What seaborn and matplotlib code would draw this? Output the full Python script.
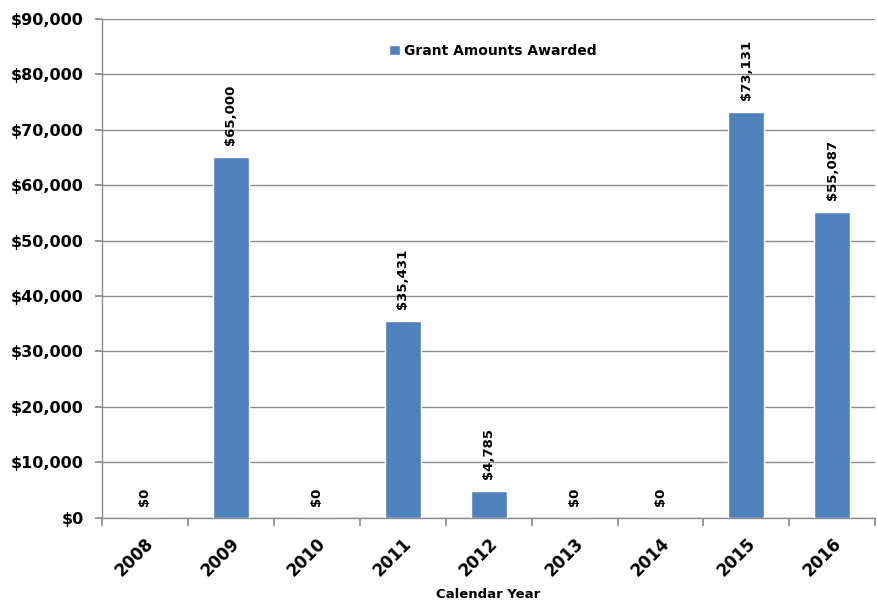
import matplotlib
matplotlib.use("Agg")
import matplotlib.pyplot as plt
import matplotlib.transforms as mtrans
import seaborn as sns
import pandas as pd

years = ["2008", "2009", "2010", "2011", "2012", "2013", "2014", "2015", "2016"]
amounts = [0, 65000, 0, 35431, 4785, 0, 0, 73131, 55087]

df = pd.DataFrame({"year": years, "amount": amounts})

sns.set_theme(style="white")
plt.rcParams['font.family'] = ['DejaVu Sans']
plt.rcParams['text.color'] = 'black'
plt.rcParams['xtick.color'] = 'black'
plt.rcParams['ytick.color'] = 'black'
plt.rcParams['axes.labelcolor'] = 'black'

fig = plt.figure(figsize=(8.78, 6.07), dpi=100)
ax = fig.add_axes([0.116, 0.147, 0.881, 0.822])

sns.barplot(data=df, x="year", y="amount", color="#4F81BD", width=0.42,
            saturation=1, ax=ax, label="Grant Amounts Awarded", zorder=3)

ax.set_ylim(0, 90000)
ax.set_xlim(-0.5, len(years) - 0.5)
ax.set_yticks(range(0, 90001, 10000))
ax.set_yticklabels([f"${v:,}" for v in range(0, 90001, 10000)],
                   fontsize=11.5, fontweight="bold")
ax.yaxis.grid(True, color="#8c8c8c", linewidth=1, zorder=0)

# category ticks between bars, labels at centres
ax.set_xticks([i - 0.5 for i in range(len(years) + 1)], minor=False)
ax.set_xticklabels([])
ax.set_xticks(range(len(years)), minor=True)
ax.set_xticklabels(years, minor=True, rotation=45, fontsize=12,
                   fontweight="bold")
ax.tick_params(axis="x", which="major", length=6, color="#8c8c8c",
               direction="out", bottom=True)
ax.tick_params(axis="x", which="minor", length=0, pad=12)
ax.tick_params(axis="y", length=5, color="#8c8c8c", direction="out",
               left=True, pad=8)
shift = mtrans.ScaledTranslation(-10 / 100, 0, fig.dpi_scale_trans)
for lbl in ax.get_xticklabels(minor=True):
    lbl.set_horizontalalignment("center")
    lbl.set_transform(lbl.get_transform() + shift)

for s in ["top", "right"]:
    ax.spines[s].set_visible(False)
for s in ["left", "bottom"]:
    ax.spines[s].set_color("#8c8c8c")
    ax.spines[s].set_linewidth(1)

for i, v in enumerate(amounts):
    ax.text(i, v + 2200, f"${v:,}", rotation=90, ha="center", va="bottom",
            fontsize=9.5, fontweight="bold")

ax.set_xlabel("Calendar Year", fontsize=9.5, fontweight="bold", labelpad=6)
ax.set_ylabel("")

ax.legend(loc="upper center", bbox_to_anchor=(0.505, 0.975), frameon=False,
          prop={"weight": "bold", "size": 10}, handlelength=0.8,
          handleheight=0.8, handletextpad=0.3)

fig.savefig("out.png", dpi=100)
